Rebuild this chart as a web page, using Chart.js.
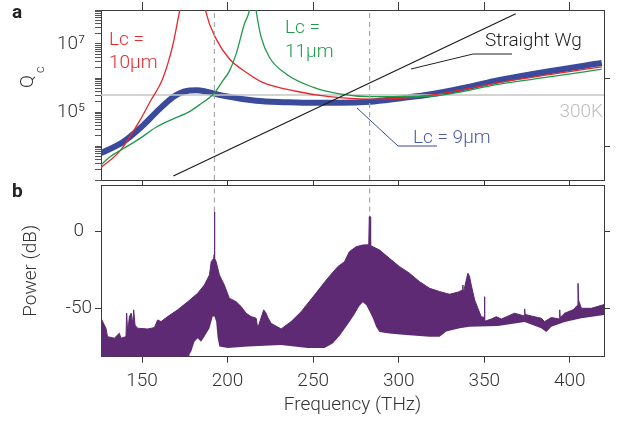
<!DOCTYPE html>
<html><head><meta charset="utf-8">
<script src="https://cdn.jsdelivr.net/npm/chart.js@4/dist/chart.umd.min.js"></script>
<style>
html,body{margin:0;padding:0;background:#fff;width:623px;height:424px;overflow:hidden}
#ca{position:absolute;left:0;top:0}
#cb{position:absolute;left:0;top:180px}
</style></head><body>
<canvas id="ca" width="623" height="182"></canvas>
<canvas id="cb" width="623" height="244"></canvas>
<script>
// ---------------- data ----------------
const freqTicks = [150, 200, 250, 300, 350, 400];
const freqMin = 126, freqMax = 420;

// panel a: coupling Q (log10 values)
const lc9Freq  = [126, 138.7, 149.4, 158.2, 167.9, 172, 177.7, 182, 187.4, 197.1, 216.7, 234.2, 250, 265, 283, 300.4, 319.8, 340, 359, 388, 418.7];
const lc9LogQ  = [3.79, 4.11, 4.55, 4.99, 5.43, 5.55, 5.63, 5.64, 5.60, 5.48, 5.33, 5.29, 5.27, 5.27, 5.30, 5.40, 5.53, 5.73, 5.94, 6.20, 6.44];

const lc10Freq = [126, 137, 149.4, 155, 162, 167.9, 171.8, 173.3, 180, 186.2, 187.4, 193.3, 201.1, 210.8, 220.5, 240, 259.5, 283, 300.4, 319.8, 359, 388, 418.7];
const lc10LogQ = [3.37, 3.85, 4.81, 5.33, 5.97, 6.95, 7.93, 8.30, null, 8.30, 7.93, 7.15, 6.56, 6.17, 5.87, 5.61, 5.45, 5.38, 5.40, 5.50, 5.87, 6.10, 6.33];

const lc11Freq = [126, 130.9, 138.7, 148.4, 158.2, 167.9, 177.7, 183.5, 192.3, 197.2, 201.1, 205, 209.8, 212.7, 213.6, 215, 215.8, 216.7, 219.6, 224.4, 234.2, 249.8, 265.4, 283, 300.4, 319.8, 359, 388, 418.7];
const lc11LogQ = [3.44, 3.67, 3.91, 4.21, 4.55, 4.79, 5.01, 5.21, 5.56, 5.92, 6.21, 6.71, 7.59, 7.98, 8.30, null, 8.30, 7.97, 7.20, 6.61, 6.12, 5.73, 5.53, 5.45, 5.45, 5.47, 5.82, 6.03, 6.26];

const straightFreq = [168.3, 368.4];
const straightLogQ = [3.12, 7.89];

const thermalLogQ = 5.5;           // 300K level
const markerFreq = [192.3, 283];   // dashed markers
const markerPeakDb = [13, 9.8];

// panel b: power spectrum envelopes (dB)
const upperFreq = [126,128.9,129.8,133.8,136.7,137.7,140.6,141.0,141.6,142.6,143.6,144.6,145.1,145.9,147.4,153.3,157.2,159.1,161.1,165,170.8,176.7,182.5,186.4,189.4,190.4,191.9,192.1,192.15,192.5,192.6,193.3,195.2,198.1,201,205,207.9,210.8,213.7,216.7,217.6,221.1,222.5,223.5,225.4,231.3,237.1,243,250.8,258.5,264.4,268.3,271.2,275.1,279,282.5,282.8,283.3,283.6,288.8,294.6,300.5,306.3,312.2,318,323.9,329.7,334.6,337.3,337.5,337.8,340.4,341.4,342.4,344.4,346.3,348.2,349.9,350.1,350.4,354.1,357.1,360,367.7,373.4,373.6,373.9,377.5,383.3,385.3,389.2,394,394.1,394.4,397,401.9,404.5,404.8,405.2,406.8,412.6,420];
const upperDb   = [-56.5,-63,-68.5,-69.5,-66.3,-69.5,-68.5,-53.2,-66,-55.4,-53.2,-60,-51,-61,-63,-63.5,-62.6,-57.6,-58.7,-55.4,-51,-45.7,-40.2,-34.8,-28.2,-19.6,-17.4,-15,13,13,-17.4,-19.6,-28.2,-34.8,-43.4,-45.7,-48.9,-53.2,-55.4,-56.5,-63,-51,-53.2,-56,-59.8,-63.5,-58.7,-52.2,-41.3,-30.4,-22.8,-19.6,-13,-9.8,-8.7,-8.5,9.8,9.8,-9.1,-11.9,-17.4,-22.8,-27.1,-32.6,-36.9,-39.1,-40.8,-39.5,-38,-34.8,-40,-27.1,-29,-34.8,-44.6,-50,-55.4,-56,-42.4,-58.5,-57,-55.5,-57,-53.2,-55,-50.4,-54,-55,-56.5,-58.7,-56,-57,-51,-56,-53.2,-51,-48,-33.7,-45,-50,-50,-47.6];
const lowerFreq = [126,177.5,177.7,178.7,180.6,182.5,184.5,186.4,189.4,191.3,192.3,193.3,194.2,195.2,200.1,211.8,231.3,246.8,256.6,261.4,265.5,271.2,274.1,277,279,281,282.9,284.9,286.8,288.8,294.6,304.4,318,323.9,327.8,335.6,341.4,358,373.6,383.3,386.3,389.2,397,406.8,420];
const lowerDb   = [-86,-86,-80,-78.3,-71.8,-69.5,-71.8,-68.5,-63,-55.4,-55.4,-58.7,-69.5,-75,-76,-75,-73.9,-76,-76,-73,-68,-59,-54,-48.5,-46,-47.8,-52,-56.5,-62,-65.5,-66.5,-67.4,-68.5,-68.5,-65.2,-63,-62,-61.5,-59,-63,-65.5,-62,-59,-56.5,-54.3];

const qLabels = {100000: '10\u2075', 10000000: '10\u2077'};
const dbTicks = [0, -50];

// ---------------- styles ----------------
const FONT = "Roboto, 'Liberation Sans', Arial, sans-serif";
const TXT = '#333';
const AX = '#3a3a3a';
const RED = '#e8262c', GREEN = '#1f9a4a', BLUE = '#3a4b9c', PURPLE = '#5e2a74';
const GREY = '#c4c4c4', DASH = '#a8a8a8';

const pts = (fs, ls) => fs.map((f, i) => ({x: f, y: ls[i] === null ? null : Math.pow(10, ls[i])}));
const xy = (fs, vs) => fs.map((f, i) => ({x: f, y: vs[i]}));

const qMinor = [];
for (let e = 3; e < 8; e++) for (let m = 1; m < 10; m++) qMinor.push(m * Math.pow(10, e));
qMinor.push(1e8);

function fixTicks(list) { return s => { s.ticks = list.map(v => ({value: v})); }; }
function size(w, h) {
  return s => {
    if (w !== null) s.width = w;
    if (h !== null) s.height = h;
    s.paddingTop = 0; s.paddingBottom = 0; s.paddingLeft = 0; s.paddingRight = 0;
  };
}

const baseOpts = {
  responsive: false, animation: false, events: [],
  layout: {padding: 0},
  plugins: {legend: {display: false}, tooltip: {enabled: false}},
  elements: {point: {radius: 0}}
};

// ---------------- panel a ----------------
const annotA = {
  id: 'annotA',
  afterDraw(chart) {
    const c = chart.ctx;
    c.save();
    c.font = `300 19px ${FONT}`;
    c.textAlign = 'left'; c.textBaseline = 'alphabetic';
    c.fillStyle = RED; c.fillText('Lc =', 109, 45); c.fillText('10\u00b5m', 109, 68);
    c.fillStyle = GREEN; c.fillText('Lc =', 285, 33); c.fillText('11\u00b5m', 285, 57);
    c.fillStyle = '#222'; c.fillText('Straight Wg', 485, 46);
    c.fillStyle = '#4b5aa8'; c.fillText('Lc = 9\u00b5m', 413, 143);
    c.fillStyle = '#bdbdbd'; c.textAlign = 'right'; c.fillText('300K', 603, 117);
    // leader lines
    c.lineWidth = 1;
    c.strokeStyle = '#222';
    c.beginPath(); c.moveTo(411, 69); c.lineTo(473, 54); c.lineTo(512, 54); c.stroke();
    c.strokeStyle = BLUE;
    c.beginPath(); c.moveTo(357, 108); c.lineTo(398, 146); c.lineTo(437, 146); c.stroke();
    // panel label
    c.fillStyle = '#222'; c.textAlign = 'left';
    c.font = `bold 19px ${FONT}`; c.fillText('a', 12, 18);
    // Q_c title
    c.fillStyle = TXT;
    c.translate(33, 88); c.rotate(-Math.PI / 2);
    c.font = `300 19px ${FONT}`; c.fillText('Q', 0, 0);
    c.font = `300 13px ${FONT}`; c.fillText('c', 15, 11);
    c.restore();
  }
};

new Chart(document.getElementById('ca'), {
  type: 'line',
  data: {datasets: [
    {data: pts(lc9Freq, lc9LogQ), borderColor: BLUE, borderWidth: 6, cubicInterpolationMode: 'monotone', order: 6},
    {data: pts(lc10Freq, lc10LogQ), borderColor: RED, borderWidth: 1.3, cubicInterpolationMode: 'monotone', order: 4},
    {data: pts(lc11Freq, lc11LogQ), borderColor: GREEN, borderWidth: 1.3, cubicInterpolationMode: 'monotone', order: 3},
    {data: pts(straightFreq, straightLogQ), borderColor: '#1a1a1a', borderWidth: 1.2, order: 2},
    {data: pts([freqMin, freqMax], [thermalLogQ, thermalLogQ]), borderColor: GREY, borderWidth: 1.6, order: 5},
    {data: [{x: markerFreq[0], y: 1e3}, {x: markerFreq[0], y: 1e8}], borderColor: DASH, borderWidth: 1.2, borderDash: [5, 4], order: 1},
    {data: [{x: markerFreq[1], y: 1e3}, {x: markerFreq[1], y: 1e8}], borderColor: DASH, borderWidth: 1.2, borderDash: [5, 4], order: 1}
  ]},
  options: Object.assign({}, baseOpts, {
    scales: {
      x: {type: 'linear', position: 'bottom', min: freqMin, max: freqMax,
          ticks: {display: false}, grid: {drawOnChartArea: false, drawTicks: false},
          border: {color: AX, width: 1}, afterFit: size(null, 2)},
      xTop: {type: 'linear', position: 'top', min: freqMin, max: freqMax,
          afterBuildTicks: fixTicks(freqTicks),
          ticks: {autoSkip: false, callback: () => '', padding: 0},
          grid: {drawOnChartArea: false, tickLength: 8, color: AX},
          border: {color: AX, width: 1}, afterFit: size(null, 10)},
      y: {type: 'logarithmic', position: 'left', min: 1e3, max: 1e8,
          afterBuildTicks: fixTicks(qMinor),
          ticks: {autoSkip: false, callback: v => qLabels[v] || '', padding: 10,
                  color: TXT, font: {family: FONT, size: 19, weight: 300}},
          grid: {drawOnChartArea: false, tickLength: 6, color: '#555'},
          border: {color: AX, width: 1}, afterFit: size(101, null)},
      yR: {type: 'logarithmic', position: 'right', min: 1e3, max: 1e8,
          afterBuildTicks: fixTicks([1e4, 1e6]),
          ticks: {autoSkip: false, callback: () => ''},
          grid: {drawOnChartArea: false, tickLength: 6, color: AX},
          border: {color: AX, width: 1}, afterFit: size(19, null)}
    }
  }),
  plugins: [annotA]
});

// ---------------- panel b ----------------
const annotB = {
  id: 'annotB',
  afterDraw(chart) {
    const c = chart.ctx;
    c.save();
    c.fillStyle = '#222'; c.textAlign = 'left'; c.textBaseline = 'alphabetic';
    c.font = `bold 19px ${FONT}`; c.fillText('b', 12, 17);
    c.restore();
  }
};

new Chart(document.getElementById('cb'), {
  type: 'line',
  data: {datasets: [
    {data: xy(lowerFreq, lowerDb), borderWidth: 0, borderColor: PURPLE, fill: false},
    {data: xy(upperFreq, upperDb), borderWidth: 1, borderColor: PURPLE, backgroundColor: PURPLE, fill: '-1'},
    {data: [{x: markerFreq[0], y: 40}, {x: markerFreq[0], y: markerPeakDb[0]}], borderColor: DASH, borderWidth: 1.2, borderDash: [5, 4]},
    {data: [{x: markerFreq[1], y: 40}, {x: markerFreq[1], y: markerPeakDb[1]}], borderColor: DASH, borderWidth: 1.2, borderDash: [5, 4]}
  ]},
  options: Object.assign({}, baseOpts, {
    scales: {
      x: {type: 'linear', position: 'bottom', min: freqMin, max: freqMax,
          afterBuildTicks: fixTicks(freqTicks),
          ticks: {autoSkip: false, maxRotation: 0, padding: 7, color: TXT,
                  font: {family: FONT, size: 19, weight: 300}},
          grid: {drawOnChartArea: false, tickLength: 6, color: AX},
          border: {color: AX, width: 1},
          title: {display: true, text: 'Frequency (THz)', color: TXT,
                  font: {family: FONT, size: 19, weight: 300}, padding: {top: 0, bottom: 7.6}},
          afterFit: size(null, 67.3)},
      xTop: {type: 'linear', position: 'top', min: freqMin, max: freqMax,
          afterBuildTicks: fixTicks(freqTicks),
          ticks: {autoSkip: false, callback: () => '', padding: 0},
          grid: {drawOnChartArea: false, tickLength: 5, color: AX},
          border: {color: AX, width: 1}, afterFit: size(null, 5)},
      y: {type: 'linear', position: 'left', min: -81.6, max: 30.5,
          afterBuildTicks: fixTicks(dbTicks),
          ticks: {autoSkip: false, padding: 3, crossAlign: 'center', color: TXT,
                  callback: v => String(v), font: {family: FONT, size: 19, weight: 300}},
          grid: {drawOnChartArea: false, tickLength: 6, color: AX},
          border: {color: AX, width: 1},
          title: {display: true, text: 'Power (dB)', color: TXT,
                  font: {family: FONT, size: 19, weight: 300}, padding: {top: 19.6, bottom: 0}},
          afterFit: size(101, null)},
      yR: {type: 'linear', position: 'right', min: -81.6, max: 30.5,
          afterBuildTicks: fixTicks(dbTicks),
          ticks: {autoSkip: false, callback: () => ''},
          grid: {drawOnChartArea: false, tickLength: 6, color: AX},
          border: {color: AX, width: 1}, afterFit: size(19, null)}
    }
  }),
  plugins: [annotB]
});
</script>
</body></html>
